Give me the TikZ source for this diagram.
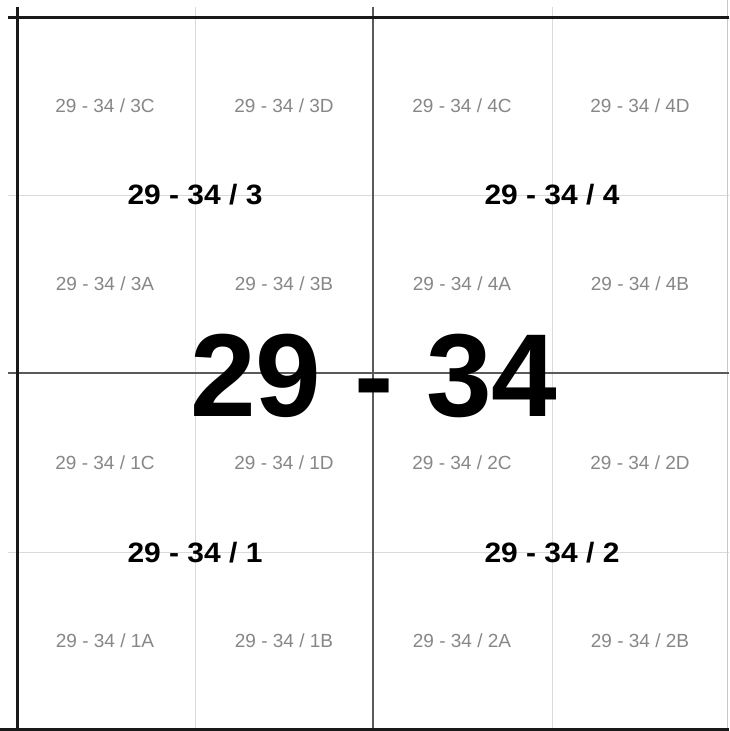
\documentclass[tikz,border=0pt]{standalone}
\usepackage{fontspec}
\setmainfont{Liberation Sans}
\newfontfamily\medfont[FakeStretch=1.07]{Liberation Sans Bold}
\definecolor{lbl}{RGB}{135,135,135}
\definecolor{lightline}{RGB}{218,218,218}
\definecolor{midgray}{RGB}{90,90,90}
\definecolor{edgegray}{RGB}{200,200,200}
\begin{document}
\begin{tikzpicture}[x=1pt,y=-1pt,
  thinline/.style={draw=lightline, line width=1pt},
  midline/.style={draw=midgray, line width=1.6pt},
  thickline/.style={draw=black!90, line width=3pt},
  edgeline/.style={draw=edgegray, line width=1pt},
  small/.style={font=\fontsize{19}{21}\selectfont, text=lbl, inner sep=0pt, text height=13.6pt, text depth=0pt},
  medium/.style={font=\medfont\fontsize{28}{30}\selectfont, inner sep=0pt, text height=20pt, text depth=0pt},
  big/.style={font=\fontsize{118}{128}\selectfont\bfseries, inner sep=0pt, text height=85pt, text depth=0pt}]
\useasboundingbox[fill=white] (0,0) rectangle (729,731);
% light quarter lines
\draw[thinline] (195,7) -- (195,729);
\draw[thinline] (552,7) -- (552,729);
\draw[thinline] (8,195) -- (729,195);
\draw[thinline] (8,552) -- (729,552);
% right edge
\draw[edgeline] (727.5,0) -- (727.5,729);
% middle lines
\draw[midline] (373,7) -- (373,729);
\draw[midline] (8,373) -- (729,373);
% thick frame lines
\draw[thickline] (8,17) -- (729,17);
\draw[thickline] (17,7) -- (17,731);
\draw[thickline] (0,729.5) -- (729,729.5);
% small labels
\node[small] (s3C) at (105,106) {29 - 34 / 3C};
\node[small] (s3D) at (284,106) {29 - 34 / 3D};
\node[small] (s4C) at (462,106) {29 - 34 / 4C};
\node[small] (s4D) at (640,106) {29 - 34 / 4D};
\node[small] (s3A) at (105,284) {29 - 34 / 3A};
\node[small] (s3B) at (284,284) {29 - 34 / 3B};
\node[small] (s4A) at (462,284) {29 - 34 / 4A};
\node[small] (s4B) at (640,284) {29 - 34 / 4B};
\node[small] (s1C) at (105,463) {29 - 34 / 1C};
\node[small] (s1D) at (284,463) {29 - 34 / 1D};
\node[small] (s2C) at (462,463) {29 - 34 / 2C};
\node[small] (s2D) at (640,463) {29 - 34 / 2D};
\node[small] (s1A) at (105,641) {29 - 34 / 1A};
\node[small] (s1B) at (284,641) {29 - 34 / 1B};
\node[small] (s2A) at (462,641) {29 - 34 / 2A};
\node[small] (s2B) at (640,641) {29 - 34 / 2B};
% medium labels
\node[medium] (m3) at (195,194) {29 - 34 / 3};
\node[medium] (m4) at (552,194) {29 - 34 / 4};
\node[medium] (m1) at (195,552) {29 - 34 / 1};
\node[medium] (m2) at (552,552) {29 - 34 / 2};
% big label
\node[big] (big) at (374,374) {29 - 34};
\end{tikzpicture}
\end{document}
